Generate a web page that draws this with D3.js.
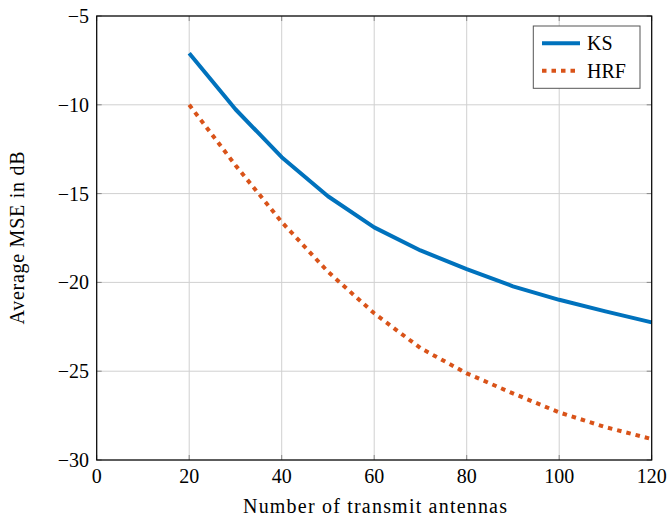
<!DOCTYPE html>
<html><head><meta charset="utf-8">
<script src="https://cdn.jsdelivr.net/npm/d3@7"></script>
<style>body{margin:0;background:#fff}svg{display:block}text{font-family:"Liberation Serif","Times New Roman",serif;fill:#000}</style>
</head><body><svg id="c" width="669" height="520"></svg>
<script>
const antennas = [20,30,40,50,60,70,80,90,100,110,120];
const ks  = [-7.1,-10.25,-12.95,-15.15,-16.9,-18.2,-19.25,-20.22,-20.98,-21.63,-22.25];
const hrf = [-10.0,-13.4,-16.6,-19.4,-21.74,-23.7,-25.12,-26.25,-27.32,-28.15,-28.82];
const xTicks = [0,20,40,60,80,100,120];
const yTicks = [-5,-10,-15,-20,-25,-30];
const seriesNames = ["KS","HRF"];
const colors = ["#0072BD","#D95319"];

const svg = d3.select("#c");
const L=96.7,R=651.7,T=16,B=460;
const x = d3.scaleLinear().domain([0,120]).range([L,R]);
const y = d3.scaleLinear().domain([-30,-5]).range([B,T]);

// grid
const g = svg.append("g");
g.selectAll(".gx").data(xTicks).enter().append("line")
 .attr("x1",d=>x(d)).attr("x2",d=>x(d)).attr("y1",T).attr("y2",B)
 .attr("stroke","#d0d0d0").attr("stroke-width",1);
g.selectAll(".gy").data(yTicks).enter().append("line")
 .attr("y1",d=>y(d)).attr("y2",d=>y(d)).attr("x1",L).attr("x2",R)
 .attr("stroke","#d0d0d0").attr("stroke-width",1);
// inner ticks
const tk=5;
xTicks.forEach(d=>{
 g.append("line").attr("x1",x(d)).attr("x2",x(d)).attr("y1",B).attr("y2",B-tk).attr("stroke","#888");
 g.append("line").attr("x1",x(d)).attr("x2",x(d)).attr("y1",T).attr("y2",T+tk).attr("stroke","#888");
});
yTicks.forEach(d=>{
 g.append("line").attr("y1",y(d)).attr("y2",y(d)).attr("x1",L).attr("x2",L+tk).attr("stroke","#888");
 g.append("line").attr("y1",y(d)).attr("y2",y(d)).attr("x1",R).attr("x2",R-tk).attr("stroke","#888");
});

// lines
const line = d3.line().x((d,i)=>x(antennas[i])).y(d=>y(d));
svg.append("path").datum(ks).attr("d",line).attr("fill","none")
 .attr("stroke",colors[0]).attr("stroke-width",4).attr("stroke-linejoin","round");
svg.append("path").datum(hrf).attr("d",line).attr("fill","none")
 .attr("stroke",colors[1]).attr("stroke-width",4).attr("stroke-dasharray","4.5,5");

// frame
svg.append("rect").attr("x",L).attr("y",T).attr("width",R-L).attr("height",B-T)
 .attr("fill","none").attr("stroke","#000").attr("stroke-width",1.2);

// tick labels
svg.selectAll(".xl").data(xTicks).enter().append("text")
 .attr("x",d=>x(d)).attr("y",483).attr("text-anchor","middle").attr("font-size",20)
 .text(d=>d);
svg.selectAll(".yl").data(yTicks).enter().append("text")
 .attr("x",89).attr("y",d=>y(d)+7).attr("text-anchor","end").attr("font-size",20)
 .text(d=>"\u2212"+Math.abs(d));

// axis titles
svg.append("text").attr("x",243).attr("y",513)
 .attr("font-size",20).attr("textLength",264).attr("lengthAdjust","spacing")
 .text("Number of transmit antennas");
svg.append("text").attr("transform",`translate(24,${(T+B)/2+86.5}) rotate(-90)`)
 .attr("font-size",20).attr("textLength",173).attr("lengthAdjust","spacing")
 .text("Average MSE in dB");

// legend
const lg = svg.append("g");
lg.append("rect").attr("x",533.3).attr("y",26).attr("width",106.7).attr("height",62.3)
 .attr("fill","#fff").attr("stroke","#555").attr("stroke-width",1);
seriesNames.forEach((n,i)=>{
 const yy = 43.3 + i*27.4;
 lg.append("line").attr("x1",542).attr("x2",580).attr("y1",yy).attr("y2",yy)
  .attr("stroke",colors[i]).attr("stroke-width",4)
  .attr("stroke-dasharray", i===1?"4.5,5":null);
 lg.append("text").attr("x",587).attr("y",yy+7).attr("font-size",20).text(n);
});
</script></body></html>
